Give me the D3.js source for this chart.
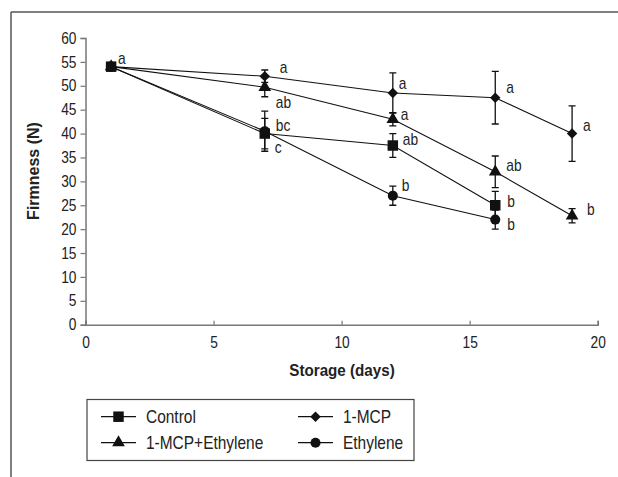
<!DOCTYPE html>
<html>
<head>
<meta charset="utf-8">
<script src="https://cdn.jsdelivr.net/npm/d3@7"></script>
<style>
  body { margin: 0; background: #fff; }
  svg { font-family: "Liberation Sans", Arial, sans-serif; }
</style>
</head>
<body>
<svg id="chart" width="618" height="477"></svg>
<script>
// storage days
var days = [1, 7, 12, 16, 19];
var seriesNames = ["Control", "1-MCP", "1-MCP+Ethylene", "Ethylene"];

// firmness (N)
var controlVals = [54, 40, 37.5, 25];
var mcpVals = [54, 52, 48.5, 47.5, 40];
var mcpEthVals = [54, 49.7, 43, 32, 22.8];
var ethVals = [54, 40.5, 27, 22];

// error bars (+/-)
var controlErr = [0.8, 3.2, 2.5, 2.9];
var mcpErr = [0.3, 1.3, 4.2, 5.5, 5.8];
var mcpEthErr = [0.3, 2, 1.4, 3.3, 1.5];
var ethErr = [0.3, 4.2, 2, 2];

// significance letters
var controlLetters = ["a", "c", "ab", "b"];
var mcpLetters = [null, "a", "a", "a", "a"];
var mcpEthLetters = [null, "ab", "a", "ab", "b"];
var ethLetters = [null, "bc", "b", "b"];

var xTicks = [0, 5, 10, 15, 20];
var yTicks = d3.range(0, 61, 5);

var narrow = 0.86; // fake condensed face

var svg = d3.select("#chart");

function label(parent, px, py, txt, size, sx, bold, anchor) {
  return parent.append("text")
    .attr("transform", "translate(" + px + "," + py + ") scale(" + sx + ",1)")
    .attr("font-size", size + "px")
    .attr("font-weight", bold ? "bold" : "normal")
    .attr("text-anchor", anchor || "start")
    .attr("fill", "#222")
    .text(txt);
}

// frame
svg.append("line").attr("x1", 11).attr("y1", 12).attr("x2", 618).attr("y2", 12)
   .attr("stroke", "#555").attr("stroke-width", 1.5);
svg.append("line").attr("x1", 11).attr("y1", 12).attr("x2", 11).attr("y2", 477)
   .attr("stroke", "#555").attr("stroke-width", 1.5);

var x = d3.scaleLinear().domain([0, 20]).range([85.5, 597.7]);
var y = d3.scaleLinear().domain([0, 60]).range([324.7, 38]);

// axes
var xAxis = svg.append("g")
   .attr("transform", "translate(0," + y(0) + ")")
   .call(d3.axisBottom(x).tickValues(xTicks).tickSize(-4).tickPadding(10));
var yAxis = svg.append("g")
   .attr("transform", "translate(" + x(0) + ",0)")
   .call(d3.axisLeft(y).tickValues(yTicks).tickSize(5).tickPadding(4));

[xAxis, yAxis].forEach(function(a) {
  a.select(".domain").attr("stroke", "#777").attr("stroke-width", 1.5);
  a.selectAll(".tick line").attr("stroke", "#777").attr("stroke-width", 1.2);
  a.selectAll(".tick text").attr("font-size", "16px").attr("fill", "#222")
   .attr("font-family", "inherit")
   .attr("transform", "scale(" + narrow + ",1)");
});
xAxis.selectAll(".tick text").attr("dy", "0.85em");
yAxis.selectAll(".tick text").attr("x", -9 / narrow);

label(svg, 342, 376, "Storage (days)", 16, 0.95, true, "middle");
label(svg.append("g").attr("transform", "translate(39,171) rotate(-90)"), 0, 0, "Firmness (N)", 16, 1, true, "middle");

var diamond = {
  draw: function(ctx, size) {
    var r = Math.sqrt(size) / 2;
    ctx.moveTo(0, -r); ctx.lineTo(r, 0); ctx.lineTo(0, r); ctx.lineTo(-r, 0); ctx.closePath();
  }
};

var series = [
  { name: seriesNames[0], vals: controlVals, err: controlErr, letters: controlLetters, sym: d3.symbolSquare, size: 110,
    off: [[7, -3], [10, 19], [10, -1], [12, 2]] },
  { name: seriesNames[1], vals: mcpVals, err: mcpErr, letters: mcpLetters, sym: diamond, size: 110,
    off: [null, [15, -3], [6, -4], [11, -5], [11, -3]] },
  { name: seriesNames[2], vals: mcpEthVals, err: mcpEthErr, letters: mcpEthLetters, sym: d3.symbolTriangle, size: 70,
    off: [null, [11, 21], [8, 1], [11, -1], [15, -1]] },
  { name: seriesNames[3], vals: ethVals, err: ethErr, letters: ethLetters, sym: d3.symbolCircle, size: 80,
    off: [null, [11, 0], [9, -5], [12, 10]] }
];

var line = d3.line()
   .x(function(d) { return x(d.day); })
   .y(function(d) { return y(d.v); });

function pts(s) {
  return s.vals.map(function(v, i) { return { day: days[i], v: v, e: s.err[i], l: s.letters[i], off: s.off[i] }; });
}

series.forEach(function(s) {
  svg.append("path")
     .datum(pts(s))
     .attr("d", line)
     .attr("fill", "none")
     .attr("stroke", "#111")
     .attr("stroke-width", 1.1);
});

series.forEach(function(s) {
  svg.append("g").selectAll(".eb").data(pts(s)).enter().append("path")
   .attr("d", function(d) {
     var cx = x(d.day), t = y(d.v + d.e), b = y(d.v - d.e);
     return "M" + cx + "," + t + "V" + b + "M" + (cx - 3.5) + "," + t + "H" + (cx + 3.5) +
            "M" + (cx - 3.5) + "," + b + "H" + (cx + 3.5);
   })
   .attr("stroke", "#111").attr("stroke-width", 1.3).attr("fill", "none");
});

series.forEach(function(s) {
  var p = pts(s);
  svg.append("g").selectAll("path.m").data(p).enter().append("path")
     .attr("transform", function(d) { return "translate(" + x(d.day) + "," + y(d.v) + ")"; })
     .attr("d", d3.symbol().type(s.sym).size(s.size))
     .attr("fill", "#111");
  p.filter(function(d) { return d.l; }).forEach(function(d) {
    label(svg, x(d.day) + d.off[0], y(d.v) + d.off[1], d.l, 16, narrow, false);
  });
});

// legend
var lg = svg.append("g");
lg.append("rect").attr("x", 87).attr("y", 399.5).attr("width", 327).attr("height", 61)
  .attr("fill", "#fff").attr("stroke", "#444").attr("stroke-width", 1.2);
[0, 1, 2, 3].forEach(function(k, i) {
  var s = series[k];
  var lx = (i % 2 === 0) ? 101 : 298;
  var ly = (i < 2) ? 416.7 : 442.7;
  lg.append("line").attr("x1", lx).attr("x2", lx + 35).attr("y1", ly).attr("y2", ly)
    .attr("stroke", "#111").attr("stroke-width", 1.2);
  lg.append("path").attr("transform", "translate(" + (lx + 17.5) + "," + ly + ")")
    .attr("d", d3.symbol().type(s.sym).size(s.size)).attr("fill", "#111");
  label(lg, lx + 45, ly + 6.5, s.name, 18, narrow, false);
});
</script>
</body>
</html>
